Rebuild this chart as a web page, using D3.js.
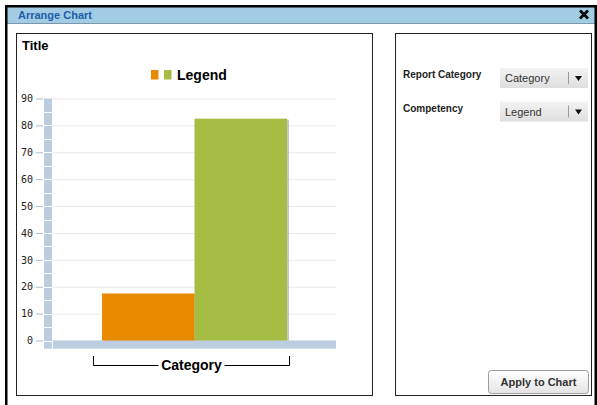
<html>
<head>
<meta charset="utf-8">
<style>
  body { margin: 0; background: #fff; }
  svg text { font-family: "Liberation Sans", Arial, sans-serif; }
</style>
</head>
<body>
<script src="https://d3js.org/d3.v7.min.js"></script>
<svg width="597" height="405"></svg>
<script type="text/javascript">
    // chart values
    var categories = ["Category"];
    var series = ["Series A", "Series B"];
    var values = [17.5, 82.5];
    var colors = ["#e88a00", "#a6bd44"];
    var yTicks = [0, 10, 20, 30, 40, 50, 60, 70, 80, 90];

    var svg = d3.select("svg");

    // window frame
    svg.append("rect").attr("x", 7).attr("y", 7).attr("width", 588).attr("height", 16).style("fill", "#a1cce3");
    svg.append("line").attr("x1", 7).attr("x2", 595).attr("y1", 23.5).attr("y2", 23.5).style("stroke", "#7d98ab");
    svg.append("rect").attr("x", 5).attr("y", 5).attr("width", 2.5).attr("height", 400).style("fill", "#000");
    svg.append("rect").attr("x", 5).attr("y", 5).attr("width", 592).attr("height", 2.5).style("fill", "#000");
    svg.append("rect").attr("x", 594.5).attr("y", 5).attr("width", 2.5).attr("height", 400).style("fill", "#000");
    svg.append("text").attr("x", 18).attr("y", 19).text("Arrange Chart")
        .style("font-size", "11px").style("font-weight", "bold").style("fill", "#1f5dab");
    // close button
    svg.append("path").attr("d", "M580,10.5L588,18.5M588,10.5L580,18.5")
        .style("stroke", "#000").style("stroke-width", 2.6);

    // panels
    svg.append("rect").attr("x", 16.5).attr("y", 33.5).attr("width", 356).attr("height", 362)
        .style("fill", "none").style("stroke", "#222");
    svg.append("rect").attr("x", 395.5).attr("y", 33.5).attr("width", 196).attr("height", 362)
        .style("fill", "none").style("stroke", "#222");

    svg.append("text").attr("x", 22).attr("y", 50).text("Title")
        .style("font-size", "13px").style("font-weight", "bold");

    // legend
    var legend = svg.append("g");
    legend.selectAll("rect").data(colors).enter().append("rect")
        .attr("x", function(d, i) { return 151 + i * 13; })
        .attr("y", 70).attr("width", 7.5).attr("height", 9.5)
        .style("fill", function(d) { return d; });
    legend.append("text").attr("x", 177).attr("y", 80).text("Legend")
        .style("font-size", "14px").style("font-weight", "bold");

    // scales
    var y = d3.scaleLinear().domain([0, 90]).range([340.5, 98.5]);
    var x = d3.scaleBand().domain(categories).range([52, 331]).paddingOuter(0.208);
    var xs = d3.scaleBand().domain(series).range([0, x.bandwidth()])
        .paddingOuter(0.065).paddingInner(0).align(0.75);

    // grid
    svg.append("g").attr("transform", "translate(52,0)")
        .call(d3.axisLeft(y).tickValues(yTicks).tickSize(-284).tickFormat(""))
        .call(function(g) {
            g.select(".domain").remove();
            g.selectAll("line").style("stroke", "#e9e9e9");
        });

    // axis bars
    svg.append("rect").attr("x", 44).attr("y", y(90)).attr("width", 8).attr("height", 348.7 - y(90))
        .style("fill", "#bccde0");
    svg.append("rect").attr("x", 53).attr("y", y(0)).attr("width", 283).attr("height", 8.2)
        .style("fill", "#bccde0");
    svg.selectAll(".seg").data(d3.range(0, 90, 5)).enter().append("line")
        .attr("x1", 44).attr("x2", 52)
        .attr("y1", function(d) { return Math.round(y(d)) + 0.5; })
        .attr("y2", function(d) { return Math.round(y(d)) + 0.5; })
        .style("stroke", "#fff");

    // y axis
    svg.append("g").attr("transform", "translate(43,0)")
        .call(d3.axisLeft(y).tickValues(yTicks).tickSize(7).tickPadding(3))
        .call(function(g) {
            g.select(".domain").remove();
            g.selectAll("line").style("stroke", "#a9bdd2");
            g.selectAll("text").style("font-family", "DejaVu Sans Mono").style("font-size", "10px").style("fill", "#222");
        });

    // bars
    var bars = svg.append("g");
    var data = series.map(function(s, i) { return {cat: categories[0], s: s, v: values[i], c: colors[i]}; });
    bars.selectAll(".shadow").data(data).enter().append("rect")
        .attr("x", function(d) { return x(d.cat) + xs(d.s) + 2; })
        .attr("y", function(d) { return y(d.v) + 1; })
        .attr("width", xs.bandwidth())
        .attr("height", function(d) { return y(0) - y(d.v) - 1; })
        .style("fill", "#999").style("opacity", 0.55);
    bars.selectAll(".bar").data(data).enter().append("rect")
        .attr("x", function(d) { return x(d.cat) + xs(d.s); })
        .attr("y", function(d) { return y(d.v); })
        .attr("width", xs.bandwidth())
        .attr("height", function(d) { return y(0) - y(d.v); })
        .style("fill", function(d) { return d.c; });

    // category bracket
    var bx0 = x(categories[0]), bx1 = x(categories[0]) + x.bandwidth(), bc = (bx0 + bx1) / 2;
    var cat = svg.append("g");
    cat.append("path")
        .attr("d", "M" + (bx0 + 0.5) + ",356V365.5H" + (bc - 33))
        .style("fill", "none").style("stroke", "#000");
    cat.append("path")
        .attr("d", "M" + (bc + 33) + ",365.5H" + (bx1 - 0.5) + "V356")
        .style("fill", "none").style("stroke", "#000");
    cat.append("text").attr("x", bc).attr("y", 370).attr("text-anchor", "middle").text(categories[0])
        .style("font-size", "14px").style("font-weight", "bold");

    // right panel controls
    var defs = svg.append("defs");
    var g1 = defs.append("linearGradient").attr("id", "dd").attr("x1", 0).attr("x2", 0).attr("y1", 0).attr("y2", 1);
    g1.append("stop").attr("offset", "0%").attr("stop-color", "#f3f3f3");
    g1.append("stop").attr("offset", "100%").attr("stop-color", "#dedede");
    var g2 = defs.append("linearGradient").attr("id", "btn").attr("x1", 0).attr("x2", 0).attr("y1", 0).attr("y2", 1);
    g2.append("stop").attr("offset", "0%").attr("stop-color", "#ffffff");
    g2.append("stop").attr("offset", "100%").attr("stop-color", "#e4e4e4");

    var controls = [
        {label: "Report Category", value: "Category", top: 68},
        {label: "Competency", value: "Legend", top: 101.5}
    ];
    var c = svg.selectAll(".ctl").data(controls).enter().append("g");
    c.append("text").attr("x", 403).attr("y", function(d) { return d.top + 10; }).text(function(d) { return d.label; })
        .style("font-size", "10px").style("font-weight", "bold").style("fill", "#222");
    c.append("rect").attr("x", 500).attr("y", function(d) { return d.top; }).attr("width", 88).attr("height", 20)
        .style("fill", "url(#dd)");
    c.append("line").attr("x1", 568.5).attr("x2", 568.5)
        .attr("y1", function(d) { return d.top + 4; }).attr("y2", function(d) { return d.top + 16; })
        .style("stroke", "#9a9a9a");
    c.append("text").attr("x", 505).attr("y", function(d) { return d.top + 14; }).text(function(d) { return d.value; })
        .style("font-size", "11px").style("fill", "#333");
    c.append("path")
        .attr("d", function(d) { var t = d.top + 8; return "M575," + t + "h7l-3.5,5z"; })
        .style("fill", "#111");

    svg.append("rect").attr("x", 488.5).attr("y", 370.5).attr("width", 100).attr("height", 23).attr("rx", 3)
        .style("fill", "url(#btn)").style("stroke", "#9c9c9c");
    svg.append("text").attr("x", 538.5).attr("y", 386).attr("text-anchor", "middle").text("Apply to Chart")
        .style("font-size", "11px").style("font-weight", "bold").style("fill", "#333");
</script>
</body>
</html>
